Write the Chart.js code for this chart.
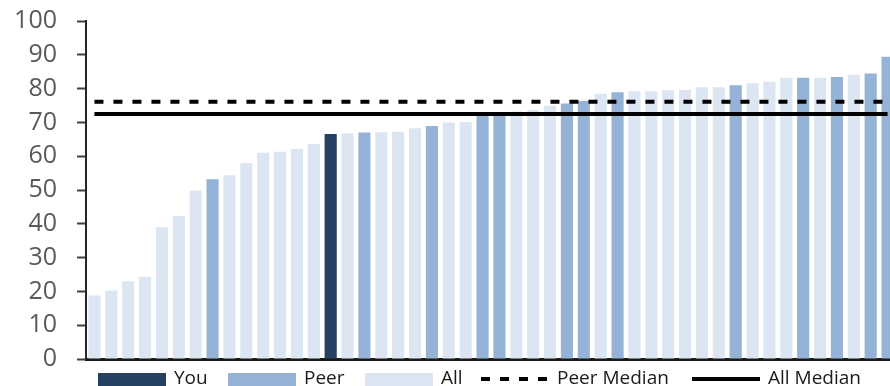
<!DOCTYPE html>
<html>
<head>
<meta charset="utf-8">
<script src="https://cdn.jsdelivr.net/npm/chart.js@4/dist/chart.umd.min.js"></script>
<style>
html, body { margin: 0; padding: 0; background: #ffffff; overflow: hidden; width: 890px; height: 386px; }
#wrap { position: absolute; left: 0; top: 0; width: 900px; height: 400px; }
canvas { display: block; }
</style>
</head>
<body>
<div id="wrap"><canvas id="c" width="900" height="400" style="width:900px;height:400px"></canvas></div>
<script>
// ---- data ----
const values = [
  18.8, 20.3, 23.0, 24.3, 39.0, 42.3, 49.8, 53.2, 54.4, 58.0,
  61.0, 61.3, 62.1, 63.6, 66.6, 66.7, 67.0, 67.1, 67.2, 68.3,
  68.9, 70.0, 70.1, 72.6, 72.8, 73.2, 73.7, 74.9, 75.6, 76.3,
  78.5, 78.9, 79.2, 79.2, 79.5, 79.6, 80.4, 80.4, 81.0, 81.6,
  82.0, 83.2, 83.2, 83.2, 83.4, 84.1, 84.5, 89.4
];
// Y = You, P = Peer, A = All
const groups = [
  'A','A','A','A','A','A','A','P','A','A',
  'A','A','A','A','Y','A','P','A','A','A',
  'P','A','A','P','P','A','A','A','P','P',
  'A','P','A','A','A','A','A','A','P','A',
  'A','A','P','A','P','A','P','P'
];
const categories = values.map((_, i) => String(i + 1));
const peerMedian = 76.1;
const allMedian = 72.5;
const yTicks = [0, 10, 20, 30, 40, 50, 60, 70, 80, 90, 100];
const seriesNames = ['You', 'Peer', 'All', 'Peer Median', 'All Median'];

const COLORS = { Y: '#254061', P: '#95B3D7', A: '#DCE6F2' };
const FONT = '"Open Sans", "DejaVu Sans", sans-serif';

function pick(code) { return values.map((v, i) => groups[i] === code ? v : null); }

const barCommon = { type: 'bar', grouped: false, barPercentage: 0.72, categoryPercentage: 1.0, borderWidth: 0, order: 2 };

const datasets = [
  Object.assign({ label: seriesNames[0], data: pick('Y'), backgroundColor: COLORS.Y }, barCommon),
  Object.assign({ label: seriesNames[1], data: pick('P'), backgroundColor: COLORS.P }, barCommon),
  Object.assign({ label: seriesNames[2], data: pick('A'), backgroundColor: COLORS.A }, barCommon),
  { type: 'line', label: seriesNames[3], data: categories.map(() => peerMedian), borderColor: '#000000',
    borderWidth: 4, borderDash: [9, 10], pointRadius: 0, fill: false, order: 0 },
  { type: 'line', label: seriesNames[4], data: categories.map(() => allMedian), borderColor: '#000000',
    borderWidth: 4, pointRadius: 0, fill: false, order: 1 }
];

// legend drawn below the plot (layout positions only)
const legendStarts = [98, 228, 365, 481, 692];
const legendPlugin = {
  id: 'bottomLegend',
  afterDraw(chart) {
    const ctx = chart.ctx;
    ctx.save();
    ctx.font = '19px ' + FONT;
    ctx.textBaseline = 'middle';
    const yc = 379;
    chart.data.datasets.forEach((ds, i) => {
      const x = legendStarts[i];
      if (ds.type === 'bar') {
        ctx.fillStyle = ds.backgroundColor;
        ctx.fillRect(x, yc - 6, 68, 14);
      } else {
        ctx.strokeStyle = ds.borderColor;
        ctx.lineWidth = ds.borderWidth;
        ctx.setLineDash(ds.borderDash || []);
        ctx.beginPath();
        ctx.moveTo(x, yc);
        ctx.lineTo(x + 68, yc);
        ctx.stroke();
        ctx.setLineDash([]);
      }
      ctx.fillStyle = '#1a1a1a';
      ctx.textAlign = 'left';
      ctx.fillText(ds.label, x + 76, yc);
    });
    ctx.restore();
  }
};

new Chart(document.getElementById('c'), {
  type: 'bar',
  data: { labels: categories, datasets: datasets },
  options: {
    responsive: false,
    animation: false,
    layout: { padding: { top: 21, right: 4, bottom: 41, left: 0 } },
    plugins: { legend: { display: false }, tooltip: { enabled: false }, title: { display: false } },
    scales: {
      x: {
        offset: true,
        ticks: { display: false },
        grid: { display: false, drawTicks: false },
        border: { display: true, color: '#1a1a1a', width: 3 },
        afterFit(s) { s.height = 0; s.paddingLeft = 0; s.paddingRight = 0; }
      },
      y: {
        min: 0, max: 100,
        afterBuildTicks(s) { s.ticks = yTicks.map(v => ({ value: v })); },
        ticks: { padding: 20, color: '#595959', font: { family: FONT, size: 25 } },
        grid: { display: true, drawOnChartArea: false, drawTicks: true, tickLength: 9, tickWidth: 2, tickColor: '#404040' },
        border: { display: true, color: '#262626', width: 2 },
        afterFit(s) { s.width = 86; s.paddingTop = 0; s.paddingBottom = 0; }
      }
    }
  },
  plugins: [legendPlugin]
});
</script>
</body>
</html>
